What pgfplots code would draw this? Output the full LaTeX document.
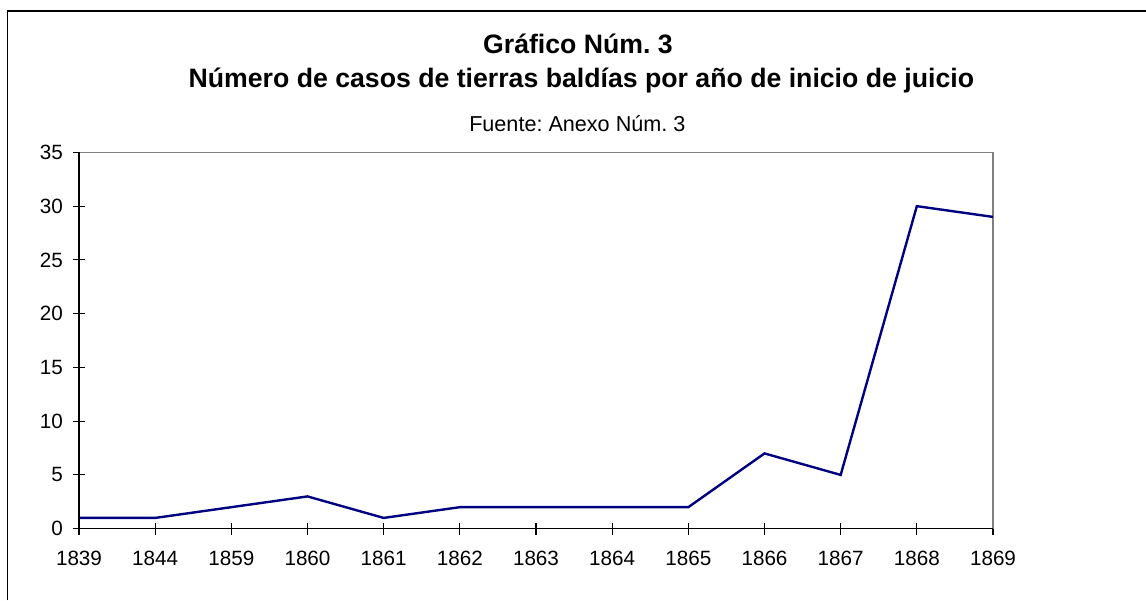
\documentclass[border=0pt]{standalone}
\usepackage{pgfplots}
\pgfplotsset{compat=1.18}
\usepackage{fontspec}
\setmainfont{Liberation Sans}
\definecolor{navyline}{RGB}{0,0,128}
\definecolor{frgray}{RGB}{128,128,128}
\frenchspacing
\begin{document}
\begin{tikzpicture}
\path[use as bounding box] (0pt,0pt) rectangle (859.5pt,-450pt);
\draw[black, line width=1pt] (5.6pt,-450pt) -- (5.6pt,-8.25pt) -- (859.5pt,-8.25pt);
\node[anchor=base, font=\fontsize{20}{23}\selectfont\bfseries] at (433.5pt,-39.75pt) {Gráfico Núm. 3};
\node[anchor=base, font=\fontsize{20}{23}\selectfont\bfseries] at (436pt,-65.25pt) {Número de casos de tierras baldías por año de inicio de juicio};
\node[anchor=base, font=\fontsize{16.2}{19}\selectfont] at (433pt,-98.8pt) {Fuente: Anexo Núm. 3};
\begin{axis}[
  at={(59.25pt,-396.5pt)}, anchor=south west,
  scale only axis, width=685.5pt, height=282.2pt,
  xmin=0, xmax=12, ymin=0, ymax=35,
  xtick={0,...,12},
  xticklabels={1839,1844,1859,1860,1861,1862,1863,1864,1865,1866,1867,1868,1869},
  ytick={0,5,...,35},
  xtick pos=left, ytick pos=left,
  tick align=center, major tick length=9pt,
  tick style={black, line width=0.8pt},
  axis line style={draw=frgray, line width=1.2pt},
  ticklabel style={font=\fontsize{15.5}{18}\selectfont},
  xticklabel style={yshift=-9pt},
  yticklabel style={xshift=-4pt},
  /pgf/number format/assume math mode=true,
  clip=false,
]
\addplot[navyline, line width=1.8pt, mark=none] coordinates {
(0,1) (1,1) (2,2) (3,3) (4,1) (5,2) (6,2) (7,2) (8,2) (9,7) (10,5) (11,30) (12,29)
};
\draw[black, line width=1.2pt] (rel axis cs:0,1) -- (rel axis cs:0,0) -- (rel axis cs:1,0);
\end{axis}
\end{tikzpicture}
\end{document}
